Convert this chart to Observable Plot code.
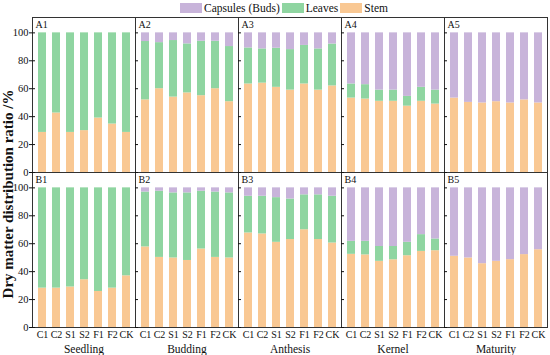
<!DOCTYPE html>
<html>
<head>
<meta charset="utf-8">
<script src="https://cdn.jsdelivr.net/npm/d3@7"></script>
<script src="https://cdn.jsdelivr.net/npm/@observablehq/plot@0.6"></script>
<style>
  html, body { margin: 0; padding: 0; background: #fff; }
  #wrap { position: relative; width: 550px; height: 355px; font-family: "Liberation Serif", "Times New Roman", serif; }
  #legend { height: 16px; display: flex; align-items: center; padding-left: 180px; font-size: 11.5px; color: #111; }
  .item { display: flex; align-items: center; margin-right: 2px; }
  .sw { width: 22px; height: 10px; margin-right: 2px; }
  svg { display: block; }
</style>
</head>
<body>
<div id="wrap">
  <div id="legend"></div>
  <div id="chart"></div>
</div>
<script>
const stages = ["Seedling", "Budding", "Anthesis", "Kernel", "Maturity"];
const rows = ["A", "B"];
const treatments = ["C1", "C2", "S1", "S2", "F1", "F2", "CK"];
const parts = ["Stem", "Leaves", "Capsules (Buds)"];
const legendOrder = ["Capsules (Buds)", "Leaves", "Stem"];
const partColors = ["#f9c893", "#8fd5a1", "#c8b4da"];

// Row A (values in %)
const stemA = [
  [28.7, 42.6, 28.7, 30.0, 39.0, 34.7, 28.7],
  [52.0, 60.0, 54.0, 57.0, 55.0, 60.0, 50.7],
  [63.4, 64.0, 61.0, 59.0, 63.4, 59.0, 62.0],
  [53.3, 52.6, 51.0, 51.0, 47.5, 51.0, 49.0],
  [53.3, 50.2, 49.8, 50.7, 49.8, 52.0, 49.8]
];
const leavesA = [
  [71.3, 57.4, 71.3, 70.0, 61.0, 65.3, 71.3],
  [41.8, 33.0, 40.5, 35.1, 39.0, 34.0, 39.5],
  [25.8, 24.5, 28.0, 29.0, 27.6, 29.5, 30.0],
  [10.1, 10.3, 8.0, 8.0, 7.0, 10.0, 10.0],
  [0, 0, 0, 0, 0, 0, 0]
];
const capsA = [
  [0, 0, 0, 0, 0, 0, 0],
  [6.2, 7.0, 5.5, 7.9, 6.0, 6.0, 9.8],
  [10.8, 11.5, 11.0, 12.0, 9.0, 11.5, 8.0],
  [36.6, 37.1, 41.0, 41.0, 45.5, 39.0, 41.0],
  [46.7, 49.8, 50.2, 49.3, 50.2, 48.0, 50.2]
];
// Row B
const stemB = [
  [28.2, 28.2, 29.0, 34.2, 25.8, 28.2, 37.0],
  [57.7, 50.2, 49.8, 48.0, 56.2, 50.2, 49.8],
  [67.7, 67.0, 61.0, 63.0, 70.0, 63.0, 60.5],
  [52.4, 52.0, 47.4, 48.5, 51.4, 54.5, 55.0],
  [51.0, 49.8, 45.7, 47.4, 48.6, 52.2, 55.7]
];
const leavesB = [
  [71.8, 71.8, 71.0, 65.8, 74.2, 71.8, 63.0],
  [39.3, 47.4, 46.6, 48.4, 41.4, 46.8, 46.6],
  [26.3, 27.0, 32.0, 29.0, 25.0, 32.0, 33.5],
  [9.3, 9.7, 10.6, 9.5, 9.6, 12.0, 8.4],
  [0, 0, 0, 0, 0, 0, 0]
];
const capsB = [
  [0, 0, 0, 0, 0, 0, 0],
  [3.0, 2.4, 3.6, 3.6, 2.4, 3.0, 3.6],
  [6.0, 6.0, 7.0, 8.0, 5.0, 5.0, 6.0],
  [38.3, 38.3, 42.0, 42.0, 39.0, 33.5, 36.6],
  [49.0, 50.2, 54.3, 52.6, 51.4, 47.8, 44.3]
];
const yTicks = [0, 20, 40, 60, 80, 100];

// Build long table
const series = {A: [stemA, leavesA, capsA], B: [stemB, leavesB, capsB]};
const data = [];
for (const r of rows) {
  stages.forEach((s, si) => {
    treatments.forEach((t, ti) => {
      parts.forEach((p, pi) => {
        data.push({row: r, stage: s, treatment: t, part: p, value: series[r][pi][si][ti]});
      });
    });
  });
}
const panelLabels = [];
for (const r of rows) stages.forEach((s, si) => panelLabels.push({row: r, stage: s, label: r + (si + 1)}));

// Legend
const leg = document.getElementById("legend");
for (const p of legendOrder) {
  const it = document.createElement("div");
  it.className = "item";
  const sw = document.createElement("div");
  sw.className = "sw";
  sw.style.background = partColors[parts.indexOf(p)];
  const tx = document.createElement("span");
  tx.textContent = p;
  it.appendChild(sw); it.appendChild(tx);
  leg.appendChild(it);
}

const chart = Plot.plot({
  width: 550,
  height: 339,
  marginTop: 1,
  marginLeft: 31,
  marginRight: 2,
  marginBottom: 28,
  style: {fontFamily: "'Liberation Serif', 'Times New Roman', serif", fontSize: "10px", color: "#111", background: "#fff"},
  fx: {domain: stages, padding: 0, label: null, axis: null},
  fy: {domain: rows, padding: 0, label: null, axis: null},
  x: {domain: treatments, paddingInner: 0.44, paddingOuter: 0.2, label: null, axis: null},
  y: {domain: [0, 111], label: null, axis: null},
  color: {domain: parts, range: partColors},
  marks: [
    Plot.barY(data, Plot.stackY({fx: "stage", fy: "row", x: "treatment", y: "value", fill: "part", order: parts})),
    Plot.frame({stroke: "#333", strokeWidth: 1}),
    Plot.axisY({anchor: "left", ticks: yTicks, tickSize: 3, tickPadding: 1, label: null, fontSize: 10.5}),
    Plot.axisY({anchor: "left", ticks: yTicks, tickSize: -3, tickFormat: () => "", label: null, facetAnchor: null}),
    Plot.axisX({anchor: "bottom", tickSize: 0, tickPadding: 3, label: null, fontSize: 10}),
    Plot.axisFx({anchor: "bottom", tickSize: 0, tickPadding: 17, label: null, fontSize: 11.5}),
    Plot.text(panelLabels, {fx: "stage", fy: "row", text: "label", frameAnchor: "top-left", dx: 3, dy: 3, fontSize: 10, fill: "#111"})
  ]
});
document.getElementById("chart").appendChild(chart);

// Shared y-axis title
d3.select(chart).append("text")
  .attr("transform", "translate(10,178) rotate(-90)")
  .attr("text-anchor", "middle")
  .attr("dominant-baseline", "middle")
  .attr("font-weight", "bold")
  .attr("font-size", 15)
  .attr("fill", "#111")
  .text("Dry matter distribution ratio /%");
</script>
</body>
</html>
